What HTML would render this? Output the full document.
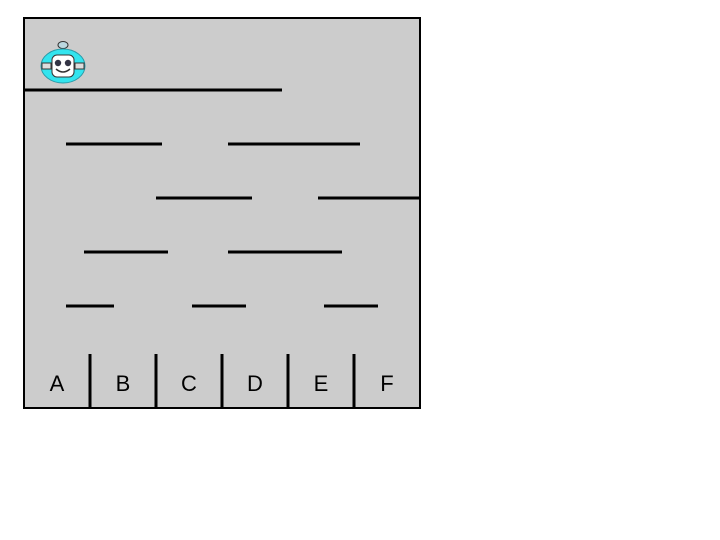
<!DOCTYPE html>
<html><head><meta charset="utf-8"><style>
html,body{margin:0;padding:0;background:#fff;width:720px;height:540px;overflow:hidden}
svg{display:block}
text{font-family:"Liberation Sans",sans-serif}
</style></head><body>
<svg id="maze" width="720" height="540" xmlns="http://www.w3.org/2000/svg">
<rect x="24" y="18" width="396" height="390" fill="#cccccc" stroke="#000" stroke-width="2"/>
<g id="walls"></g>
<g id="lanes"></g>
<g>
<ellipse cx="63" cy="45" rx="5" ry="3.5" fill="#bbd8e0" stroke="#333" stroke-width="1"/>
<line x1="63" y1="48" x2="63" y2="50" stroke="#333"/>
<ellipse cx="63" cy="66" rx="22" ry="17" fill="#33e4ee" stroke="#2a9aa8" stroke-width="1"/>
<rect x="42" y="63" width="9" height="6" fill="#ddd" stroke="#333" stroke-width="1"/>
<rect x="75" y="63" width="9" height="6" fill="#ddd" stroke="#333" stroke-width="1"/>
<rect x="52" y="55" width="22" height="22" rx="5" fill="#fff" stroke="#333" stroke-width="1"/>
<circle cx="58" cy="63" r="3.2" fill="#334"/>
<circle cx="68" cy="63" r="3.2" fill="#334"/>
<path d="M56 69 Q63 75 70 69" fill="none" stroke="#333" stroke-width="1.5"/>
</g>
</svg>
<script>
const wallY = [90, 144, 144, 198, 198, 252, 252, 306, 306, 306];
const wallX1 = [24, 66, 228, 156, 318, 84, 228, 66, 192, 324];
const wallX2 = [282, 162, 360, 252, 420, 168, 342, 114, 246, 378];
const laneLabels = ["A", "B", "C", "D", "E", "F"];
const NS = "http://www.w3.org/2000/svg";
const left = 24, laneW = 66, divTop = 354, bottom = 408;
const wg = document.getElementById("walls");
for (let i = 0; i < wallY.length; i++) {
  const l = document.createElementNS(NS, "line");
  l.setAttribute("x1", wallX1[i]); l.setAttribute("x2", wallX2[i]);
  l.setAttribute("y1", wallY[i]); l.setAttribute("y2", wallY[i]);
  l.setAttribute("stroke", "#000"); l.setAttribute("stroke-width", "3");
  
  
  wg.appendChild(l);
}
const lg = document.getElementById("lanes");
for (let i = 0; i < laneLabels.length; i++) {
  if (i > 0) {
    const d = document.createElementNS(NS, "line");
    const x = left + laneW * i;
    d.setAttribute("x1", x); d.setAttribute("x2", x);
    d.setAttribute("y1", divTop); d.setAttribute("y2", bottom);
    d.setAttribute("stroke", "#000"); d.setAttribute("stroke-width", "3");
    
    
    lg.appendChild(d);
  }
  const t = document.createElementNS(NS, "text");
  t.setAttribute("x", left + laneW * i + laneW / 2);
  t.setAttribute("y", 391);
  t.setAttribute("text-anchor", "middle");
  t.setAttribute("font-size", "22");
  t.textContent = laneLabels[i];
  
  
  lg.appendChild(t);
}
</script>
</body></html>
